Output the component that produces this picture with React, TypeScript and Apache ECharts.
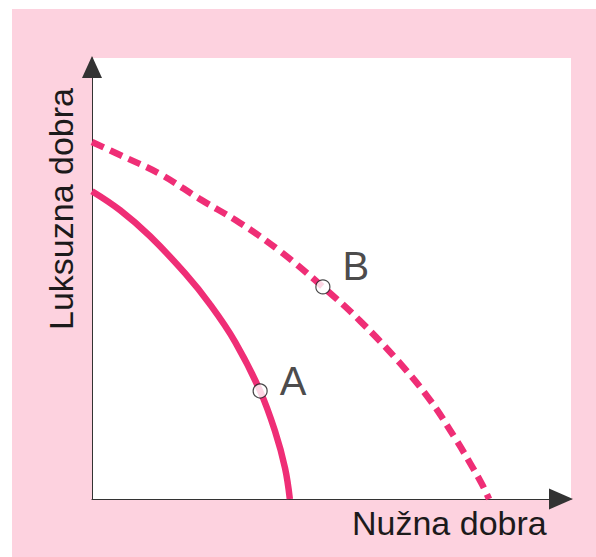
import React, { useEffect, useRef } from "react";
import * as echarts from "echarts";

// Production possibility frontier (arbitrary units 0..100)
const solidX = [0, 5.85, 12.1, 19.4, 24.6, 29.9, 35.1, 38.2, 40.3, 41.3];
const solidY = [69.8, 65.5, 59.6, 51.2, 44.2, 35.6, 24.5, 15.4, 7.0, 0];
const dashedX = [0, 5.85, 14.2, 22.55, 30.9, 39.25, 48.2, 55.95, 64.3, 70.6, 75.8, 78.9, 81.4, 82.9];
const dashedY = [80.95, 78.0, 73.7, 68.0, 62.6, 56.2, 48.1, 40.4, 30.8, 22.4, 13.8, 8.2, 3.4, 0];
const pointNames = ["A", "B"];
const pointX = [35.1, 48.2];
const pointY = [24.5, 48.1];
const xAxisTitle = "Nužna dobra";
const yAxisTitle = "Luksuzna dobra";

const PINK = "#fdd2df";
const LINE = "#ef2e76";
const INK = "#1c1a1b";
const FONT = "'Liberation Sans', Arial, Helvetica, sans-serif";

export default function App() {
  const ref = useRef<HTMLDivElement>(null);
  useEffect(() => {
    if (!ref.current) return;
    const chart = echarts.init(ref.current, undefined, { renderer: "svg" });
    const labelOffsets = [[0, -10], [0, -21]];
    chart.setOption({
      animation: false,
      backgroundColor: PINK,
      grid: {
        left: 80,
        top: 49,
        right: 25,
        bottom: 58,
        show: true,
        backgroundColor: "#ffffff",
        borderWidth: 0,
      },
      xAxis: {
        type: "value",
        min: 0,
        max: 100,
        axisLine: {
          show: true,
          symbol: ["none", "triangle"],
          symbolSize: [21, 24],
          symbolOffset: [0, -10],
          lineStyle: { color: "#333", width: 1 },
        },
        axisTick: { show: false },
        axisLabel: { show: false },
        splitLine: { show: false },
      },
      yAxis: {
        type: "value",
        min: 0,
        max: 100,
        axisLine: {
          show: true,
          symbol: ["none", "triangle"],
          symbolSize: [20, 22],
          symbolOffset: [0, -9],
          lineStyle: { color: "#333", width: 1 },
        },
        axisTick: { show: false },
        axisLabel: { show: false },
        splitLine: { show: false },
      },
      graphic: [
        {
          type: "text",
          x: 340,
          y: 513.5,
          style: {
            text: xAxisTitle,
            font: `34px ${FONT}`,
            fill: INK,
            align: "left",
            verticalAlign: "middle",
          },
        },
        {
          type: "text",
          x: 48.5,
          y: 200,
          rotation: Math.PI / 2,
          style: {
            text: yAxisTitle,
            font: `34px ${FONT}`,
            fill: INK,
            align: "center",
            verticalAlign: "middle",
          },
        },
      ],
      series: [
        {
          type: "line",
          data: solidX.map((x, i) => [x, solidY[i]]),
          smooth: 0.4,
          showSymbol: false,
          lineStyle: { color: LINE, width: 6.5 },
          z: 2,
        },
        {
          type: "line",
          data: dashedX.map((x, i) => [x, dashedY[i]]),
          smooth: 0.4,
          showSymbol: false,
          lineStyle: { color: LINE, width: 6.5, type: [13, 7], cap: "butt" },
          z: 2,
        },
        {
          type: "scatter",
          symbol: "circle",
          symbolSize: 14,
          z: 3,
          itemStyle: { color: "#fff", borderColor: INK, borderWidth: 1.2 },
          data: pointNames.map((n, i) => ({
            name: n,
            value: [pointX[i], pointY[i]],
            label: {
              show: true,
              position: "right",
              distance: 12,
              offset: labelOffsets[i],
              formatter: n,
              fontSize: 40,
              fontFamily: FONT,
              color: INK,
            },
          })),
        },
      ],
    });
    return () => chart.dispose();
  }, []);
  return (
    <div style={{ position: "absolute", left: 0, top: 0, width: 596, height: 557, background: "#fff" }}>
      <div ref={ref} style={{ position: "absolute", left: 12, top: 9, width: 584, height: 548 }} />
    </div>
  );
}
